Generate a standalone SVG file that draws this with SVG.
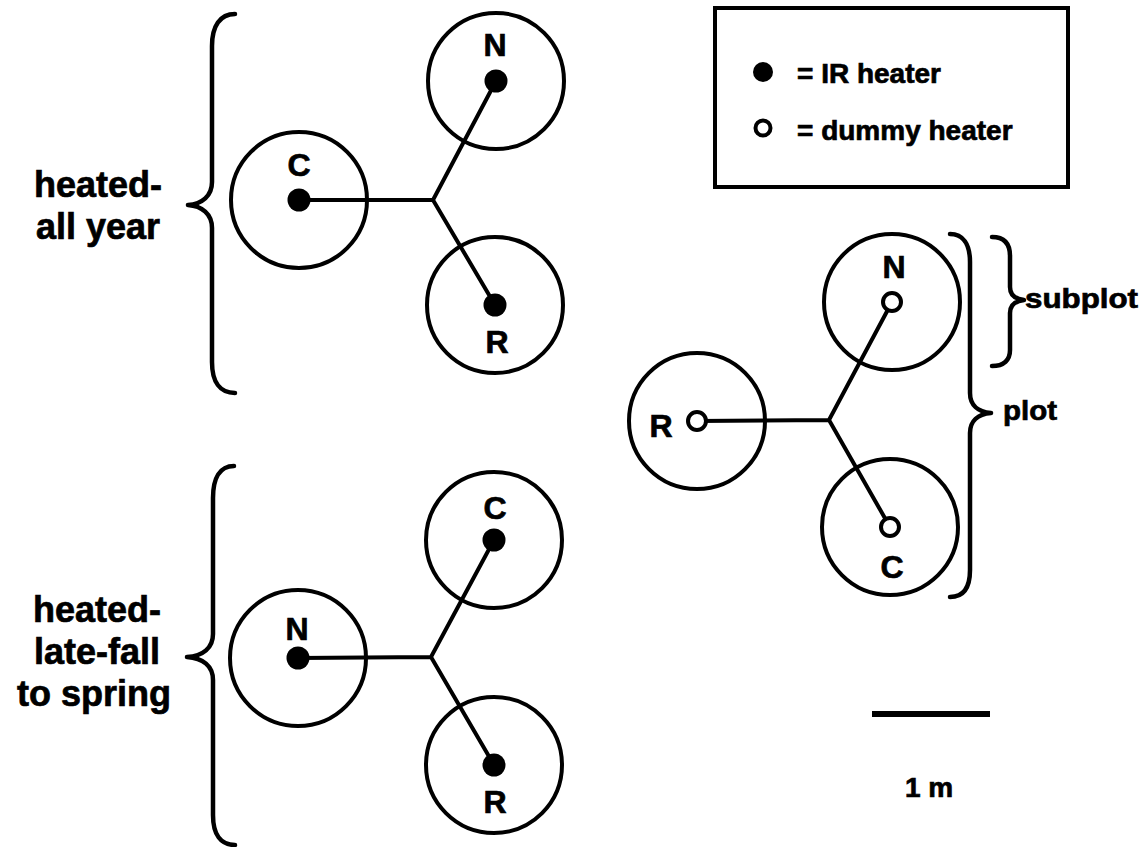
<svg xmlns="http://www.w3.org/2000/svg" width="1146" height="847" viewBox="0 0 1146 847">
<style>
  .ring{fill:none;stroke:#000;stroke-width:4}
  .link{fill:none;stroke:#000;stroke-width:4;stroke-linejoin:miter}
  .brace{fill:none;stroke:#000;stroke-width:4.5;stroke-linecap:round;stroke-linejoin:round}
  .heat{fill:#000}
  .dummy{fill:#fff;stroke:#000;stroke-width:4}
  text{font-family:"Liberation Sans",Arial,Helvetica,sans-serif;font-weight:bold;fill:#000;stroke:#000;stroke-width:0.7}
  .big{font-size:36px;text-anchor:middle}
  .lab{font-size:32px;text-anchor:middle}
  .leg{font-size:28px}
</style>
<rect width="1146" height="847" fill="#fff"/>

<g id="connectors">
  <path class="link" d="M299,200 L433,200 L496,81 M433,200 L495,305"/>
  <path class="link" d="M298,658 L431,657 L494,540 M431,657 L494,765"/>
  <path class="link" d="M697,421 L829,420 L892,302 M829,420 L890,527"/>
</g>

<g id="group-all-year">
  <text class="big" x="98" y="197">heated-</text>
  <text class="big" x="98" y="239">all year</text>
  <path class="brace" d="M235,14 C220,14 212,26 212,46 L212,182 C212,196 202,204 188,205 C202,206 212,214 212,228 L212,362 C212,382 220,393 235,393"/>
</g>
<g id="plot1-C"><circle class="ring" cx="299" cy="200" r="68"/><circle class="heat" cx="299" cy="200" r="11.5"/><text class="lab" x="299" y="176">C</text></g>
<g id="plot1-N"><circle class="ring" cx="496" cy="81" r="68"/><circle class="heat" cx="496" cy="81" r="11.5"/><text class="lab" x="495" y="56">N</text></g>
<g id="plot1-R"><circle class="ring" cx="495" cy="305" r="68"/><circle class="heat" cx="495" cy="305" r="11.5"/><text class="lab" x="497" y="353">R</text></g>

<g id="group-late-fall">
  <text class="big" x="97" y="622">heated-</text>
  <text class="big" x="97" y="664">late-fall</text>
  <text class="big" x="94" y="706">to spring</text>
  <path class="brace" d="M234,466 C220,466 213,478 213,498 L213,634 C213,648 203,656 187,657 C203,658 213,666 213,680 L213,815 C213,835 221,845 235,845"/>
</g>
<g id="plot2-N"><circle class="ring" cx="298" cy="658" r="68"/><circle class="heat" cx="298" cy="658" r="11.5"/><text class="lab" x="297" y="640">N</text></g>
<g id="plot2-C"><circle class="ring" cx="494" cy="540" r="68"/><circle class="heat" cx="494" cy="540" r="11.5"/><text class="lab" x="495" y="519">C</text></g>
<g id="plot2-R"><circle class="ring" cx="494" cy="765" r="68"/><circle class="heat" cx="494" cy="765" r="11.5"/><text class="lab" x="495" y="813">R</text></g>

<g id="legend">
  <rect x="715" y="8" width="353" height="179" fill="none" stroke="#000" stroke-width="4"/>
  <circle class="heat" cx="763" cy="72" r="10"/>
  <text class="leg" x="797" y="83">= IR heater</text>
  <circle class="dummy" cx="763" cy="128" r="7.5"/>
  <text class="leg" x="797" y="140">= dummy heater</text>
</g>

<g id="plot3-R"><circle class="ring" cx="697" cy="421" r="68"/><circle class="dummy" cx="697" cy="421" r="9"/><text class="lab" x="661" y="437">R</text></g>
<g id="plot3-N"><circle class="ring" cx="892" cy="302" r="68"/><circle class="dummy" cx="892" cy="302" r="9"/><text class="lab" x="894" y="278">N</text></g>
<g id="plot3-C"><circle class="ring" cx="890" cy="527" r="68"/><circle class="dummy" cx="890" cy="527" r="9"/><text class="lab" x="892" y="578">C</text></g>

<g id="plot-brace">
  <path class="brace" d="M950,234 C963,234 970,244 970,262 L970,393 C970,405 978,412 991,413 C978,414 970,421 970,433 L970,570 C970,588 963,597 950,597"/>
  <text class="leg" x="1003" y="420" textLength="54" lengthAdjust="spacingAndGlyphs">plot</text>
</g>
<g id="subplot-brace">
  <path class="brace" d="M992,237 C1004,237 1010,243 1010,256 L1010,287 C1010,295 1015,299 1024,300 C1015,301 1010,305 1010,313 L1010,350 C1010,360 1004,366 992,366"/>
  <text class="leg" x="1025" y="308" textLength="113" lengthAdjust="spacingAndGlyphs">subplot</text>
</g>

<g id="scale-bar">
  <line x1="872" y1="714" x2="990" y2="714" stroke="#000" stroke-width="6"/>
  <text class="leg" x="929" y="797" text-anchor="middle">1 m</text>
</g>
</svg>
